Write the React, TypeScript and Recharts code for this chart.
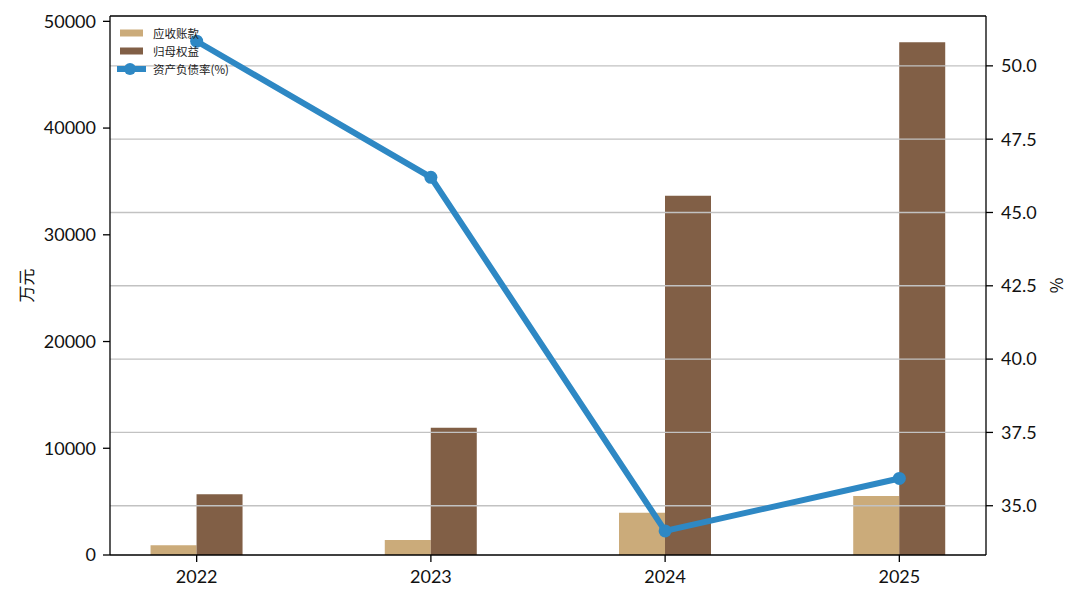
import {
  ComposedChart,
  Bar,
  Line,
  XAxis,
  YAxis,
  ReferenceLine,
  Legend,
} from "recharts";

const years = [2022, 2023, 2024, 2025];
const receivables = [910, 1405, 3965, 5530];
const equity = [5690, 11930, 33650, 48040];
const debtRatio = [50.84, 46.2, 34.14, 35.93];
const leftTicks = [0, 10000, 20000, 30000, 40000, 50000];
const rightTicks = [35, 37.5, 40, 42.5, 45, 47.5, 50];
const leftMax = 50500;

const data = years.map((year, i) => ({
  year,
  receivables: receivables[i],
  equity: equity[i],
  debtRatio: debtRatio[i],
}));

const TAN = "#cbab7a";
const BROWN = "#815f46";
const BLUE = "#2e88c4";
const FONT = "Lato, 'Noto Sans CJK SC', sans-serif";
const CJK = "'Noto Sans CJK SC', sans-serif";

function AxisTitle({ viewBox, text, dx }: any) {
  const vb = viewBox || { x: 0, y: 16, width: 110, height: 539 };
  const x = vb.x + dx;
  const y = vb.y + vb.height / 2;
  return (
    <text
      x={x}
      y={y}
      transform={`rotate(-90 ${x} ${y})`}
      textAnchor="middle"
      dominantBaseline="central"
      fontSize={17}
      fontFamily={CJK}
      fill="#111"
    >
      {text}
    </text>
  );
}

function LegendBox() {
  const row = { display: "flex", alignItems: "center", height: 18 } as const;
  const label = { fontSize: 11.5, fontFamily: CJK, color: "#222", marginLeft: 7 };
  return (
    <div>
      <div style={row}>
        <svg width={30} height={18}>
          <rect x={4} y={5.5} width={23} height={7} fill={TAN} />
        </svg>
        <span style={label}>应收账款</span>
      </div>
      <div style={row}>
        <svg width={30} height={18}>
          <rect x={4} y={5.5} width={23} height={7} fill={BROWN} />
        </svg>
        <span style={label}>归母权益</span>
      </div>
      <div style={row}>
        <svg width={30} height={18}>
          <line x1={1} y1={9} x2={30} y2={9} stroke={BLUE} strokeWidth={6} />
          <circle cx={14} cy={9} r={6} fill={BLUE} />
        </svg>
        <span style={label}>资产负债率(%)</span>
      </div>
    </div>
  );
}

export default function App() {
  return (
    <div style={{ position: "absolute", left: 0, top: 0, background: "#fff" }}>
      <ComposedChart
        width={1080}
        height={601}
        data={data}
        margin={{ top: 16, right: 0, bottom: 0, left: 0 }}
        barGap={0}
      >
        <XAxis
          dataKey="year"
          type="number"
          domain={[2021.63, 2025.37]}
          ticks={years}
          allowDataOverflow
          height={46}
          tickSize={7}
          tickMargin={8}
          tick={{ fontSize: 18, fontFamily: FONT, fill: "#111" }}
          axisLine={{ stroke: "#000", strokeWidth: 1.3 }}
          tickLine={{ stroke: "#000", strokeWidth: 1.3 }}
        />
        <YAxis
          yAxisId="left"
          width={110}
          domain={[0, leftMax]}
          ticks={leftTicks}
          allowDataOverflow
          tickSize={7}
          tickMargin={7}
          tick={{ fontSize: 18, fontFamily: FONT, fill: "#111" }}
          axisLine={{ stroke: "#000", strokeWidth: 1.3 }}
          tickLine={{ stroke: "#000", strokeWidth: 1.3 }}
          label={<AxisTitle text="万元" dx={25} />}
        />
        <YAxis
          yAxisId="right"
          orientation="right"
          width={94}
          domain={[33.32, 51.7]}
          ticks={rightTicks}
          allowDataOverflow
          tickSize={7}
          tickMargin={8}
          tickFormatter={(v: number) => v.toFixed(1)}
          tick={{ fontSize: 18, fontFamily: FONT, fill: "#111" }}
          axisLine={{ stroke: "#000", strokeWidth: 1.3 }}
          tickLine={{ stroke: "#000", strokeWidth: 1.3 }}
          label={<AxisTitle text="%" dx={69} />}
        />
        <Bar
          yAxisId="left"
          dataKey="receivables"
          name="应收账款"
          fill={TAN}
          barSize={46}
          isAnimationActive={false}
        />
        <Bar
          yAxisId="left"
          dataKey="equity"
          name="归母权益"
          fill={BROWN}
          barSize={46}
          isAnimationActive={false}
        />
        {rightTicks.map((t) => (
          <ReferenceLine
            key={t}
            yAxisId="right"
            y={t}
            stroke="#c2c2c2"
            strokeWidth={1.4}
          />
        ))}
        <ReferenceLine
          yAxisId="left"
          y={leftMax}
          stroke="#000"
          strokeWidth={1.3}
          ifOverflow="visible"
        />
        <Line
          yAxisId="right"
          dataKey="debtRatio"
          name="资产负债率(%)"
          stroke={BLUE}
          strokeWidth={6}
          dot={{ r: 6.5, fill: BLUE, stroke: BLUE, strokeWidth: 0 }}
          activeDot={false}
          isAnimationActive={false}
        />
        <Legend
          layout="vertical"
          align="center"
          verticalAlign="middle"
          wrapperStyle={{ left: 116, top: 24, width: 160, height: 56 }}
          content={() => <LegendBox />}
        />
      </ComposedChart>
    </div>
  );
}
